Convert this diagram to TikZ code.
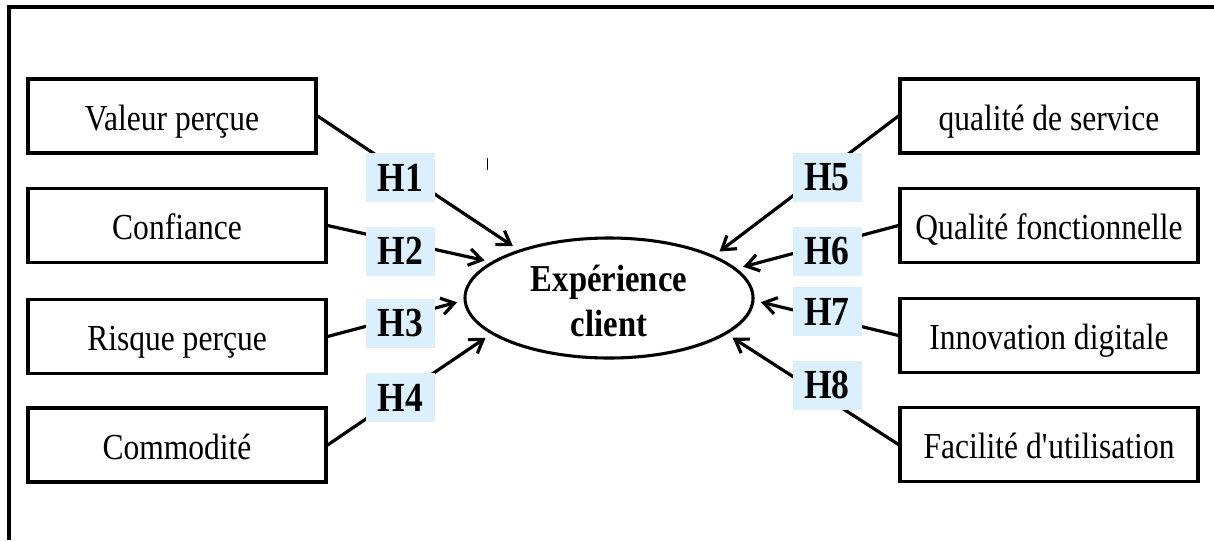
\documentclass[tikz,border=0pt]{standalone}
\usepackage{fontspec}
\setmainfont{Liberation Serif}[FakeStretch=0.86]
\usetikzlibrary{arrows.meta,shadows,shapes.geometric}
\definecolor{hypblue}{HTML}{DCEFFC}
\tikzset{
  factor/.style={draw=black, line width=2.3pt, fill=white, inner sep=0pt,
    minimum width=223.5pt, minimum height=55.5pt,
    text height=21pt, text depth=0pt,
    font=\fontsize{27.5}{32}\selectfont,
    drop shadow={shadow xshift=1.2pt, shadow yshift=-1.2pt, opacity=0.35}},
  central/.style={ellipse, draw=black, line width=2.3pt, fill=white, inner sep=0pt,
    minimum width=216pt, minimum height=90pt,
    drop shadow={shadow xshift=1.2pt, shadow yshift=-1.2pt, opacity=0.35}},
  centraltext/.style={align=center, inner sep=0pt,
    font=\bfseries\fontsize{28.5}{34}\selectfont},
  hyp/.style={fill=hypblue, inner sep=0pt, minimum width=51.75pt,
    minimum height=36.75pt, font=\bfseries\fontsize{31}{36}\selectfont},
  link/.style={line width=2.4pt, -{Straight Barb[length=9.5pt,width=12.5pt]},
    shorten >=5pt},
  frameline/.style={line width=2.4pt}
}
\begin{document}
\begin{tikzpicture}[x=0.75pt, y=-0.75pt]
  \useasboundingbox (0,0) rectangle (1214,540);
  % outer frame (top and left edges)
  \draw[frameline] (9,540) -- (9,7) -- (1214,7);
  % small stray tick
  \draw[line width=0.7pt] (487,158) -- (487,170);

  % central construct
  \node[central] (exp) at (609,298) {};
  \node[centraltext] (exptext) at (609,301) {Expérience\\client};

  % antecedents, left column
  \node[factor, minimum width=216pt] (b1) at (172,116) {Valeur perçue};
  \node[factor] (b2) at (177,225.5) {Confiance};
  \node[factor] (b3) at (177,336.5) {Risque perçue};
  \node[factor] (b4) at (177,445) {Commodité};

  % antecedents, right column
  \node[factor] (b5) at (1049,116) {qualité de service};
  \node[factor] (b6) at (1049,225.5) {Qualité fonctionnelle};
  \node[factor] (b7) at (1049,335.5) {Innovation digitale};
  \node[factor] (b8) at (1049,444.5) {Facilité d\textquotesingle utilisation};

  % hypothesised paths
  \draw[link] (b1.east) -- (exp.152.5);
  \draw[link] (b2.east) -- (exp.163.8);
  \draw[link] (b3.east) -- (exp.181);
  \draw[link] (b4.east) -- (exp.197);
  \draw[link] (b5.west) -- (exp.22.2);
  \draw[link] (b6.west) -- (exp.13.7);
  \draw[link] (b7.west) -- (exp.359);
  \draw[link] (b8.west) -- (exp.343.4);

  % hypothesis labels
  \node[hyp] (h1) at (400.5,177.5) {H1};
  \node[hyp] (h2) at (400.5,251) {H2};
  \node[hyp] (h3) at (400.5,323.5) {H3};
  \node[hyp] (h4) at (400.5,397.5) {H4};
  \node[hyp] (h5) at (827,177.5) {H5};
  \node[hyp] (h6) at (827,251) {H6};
  \node[hyp] (h7) at (827,311.5) {H7};
  \node[hyp] (h8) at (827,385) {H8};
\end{tikzpicture}
\end{document}
